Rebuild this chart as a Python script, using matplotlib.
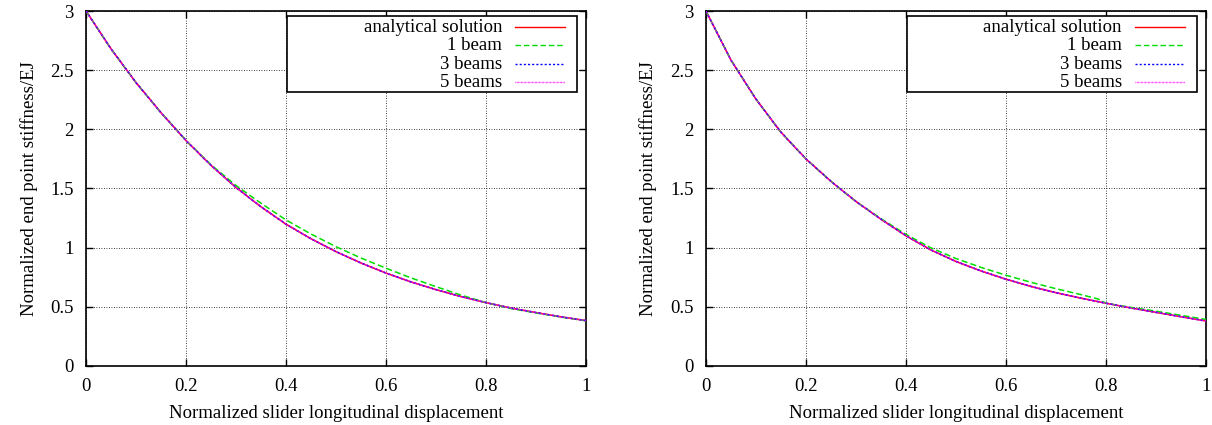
import numpy as np
import matplotlib
matplotlib.use("Agg")
import matplotlib.pyplot as plt
from matplotlib.patches import Rectangle

plt.rcParams['font.family'] = ['Liberation Serif', 'DejaVu Serif']

# normalized slider displacement
x = [0.0, 0.05, 0.1, 0.15, 0.2, 0.25, 0.3, 0.35, 0.4, 0.45, 0.5,
     0.55, 0.6, 0.65, 0.7, 0.75, 0.8, 0.85, 0.9, 0.95, 1.0]

# left panel
left_exact = [3.0, 2.68, 2.395, 2.14, 1.905, 1.695, 1.508, 1.345, 1.198, 1.075, 0.966,
              0.870, 0.785, 0.710, 0.645, 0.586, 0.535, 0.489, 0.451, 0.415, 0.383]
left_1beam = [3.0, 2.68, 2.395, 2.14, 1.905, 1.70, 1.525, 1.375, 1.234, 1.115, 1.008,
              0.912, 0.826, 0.744, 0.670, 0.599, 0.535, 0.485, 0.448, 0.413, 0.381]
left_3beam = left_exact
left_5beam = left_exact

# right panel (1 beam has a kink just before 0.8)
x_r1 = [0.0, 0.05, 0.1, 0.15, 0.2, 0.25, 0.3, 0.35, 0.4, 0.45, 0.5,
        0.55, 0.6, 0.65, 0.7, 0.75, 0.785, 0.8, 0.85, 0.9, 0.95, 1.0]
right_exact = [3.0, 2.585, 2.255, 1.975, 1.75, 1.56, 1.39, 1.24, 1.10, 0.98, 0.883,
               0.803, 0.733, 0.672, 0.619, 0.573, 0.530, 0.490, 0.453, 0.416, 0.38]
right_1beam = [3.0, 2.585, 2.255, 1.975, 1.75, 1.56, 1.39, 1.245, 1.112, 0.998, 0.908,
               0.833, 0.767, 0.707, 0.653, 0.603, 0.565, 0.530, 0.495, 0.463, 0.428, 0.393]
right_3beam = right_exact
right_5beam = right_exact

labels = ['analytical solution', '1 beam', '3 beams', '5 beams']
colors = ['#ff0000', '#00dd00', '#0000ff', '#ff00ff']
styles = ['-', (0, (4, 2)), (0, (1.5, 1.5)), (0, (0.5, 0.5))]

xlab = 'Normalized slider longitudinal displacement'
ylab = 'Normalized end point stiffness/EJ'

fs = 13.5


def key( ax ):
    # gnuplot-like key: wide box, right aligned text, sample on the right
    ax.add_patch( Rectangle( ( 0.402, 0.772 ), 0.58, 0.214, transform=ax.transAxes,
                             facecolor='w', edgecolor='k', lw=1.2, zorder=5 ) )
    ys = [ 0.955, 0.904, 0.850, 0.799 ]
    for i, lab in enumerate( labels ):
        ax.text( 0.832, ys[i], lab, transform=ax.transAxes, ha='right', va='center',
                 fontsize=fs, zorder=6 )
        ax.plot( [ 0.858, 0.958 ], [ ys[i], ys[i] ], transform=ax.transAxes,
                 color=colors[i], ls=styles[i], lw=1.0, zorder=6 )


fig = plt.figure( figsize=( 12.12, 4.25 ), dpi=100 )
ax1 = fig.add_axes( [ 0.071, 0.139, 0.4125, 0.835 ] )
ax2 = fig.add_axes( [ 0.5825, 0.139, 0.4125, 0.835 ] )

data = [ ( [ x, x, x, x ], [ left_exact, left_1beam, left_3beam, left_5beam ] ),
         ( [ x, x_r1, x, x ], [ right_exact, right_1beam, right_3beam, right_5beam ] ) ]

for ax, ( xs, ys ) in zip( [ ax1, ax2 ], data ):
    for i in range( 4 ):
        ax.plot( xs[i], ys[i], color=colors[i], ls=styles[i], lw=1.1, zorder=3 )

    ax.set_xlim( 0, 1 )
    ax.set_ylim( 0, 3 )
    ax.set_xticks( np.arange( 0, 1.01, 0.2 ) )
    ax.set_yticks( np.arange( 0, 3.01, 0.5 ) )
    ax.set_xticklabels( [ '0', '0.2', '0.4', '0.6', '0.8', '1' ] )
    ax.set_yticklabels( [ '0', '0.5', '1', '1.5', '2', '2.5', '3' ] )
    ax.tick_params( direction='in', top=True, right=True, length=5, width=1.0,
                    labelsize=fs, pad=9 )
    ax.grid( True, color='k', ls=(0, (1, 2)), lw=0.6 )
    for sp in ax.spines.values():
        sp.set_linewidth( 1.2 )
    ax.set_xlabel( xlab, fontsize=fs, labelpad=7 )
    ax.set_ylabel( ylab, fontsize=fs, labelpad=9 )
    key( ax )

fig.savefig( 'out.png', dpi=100 )
